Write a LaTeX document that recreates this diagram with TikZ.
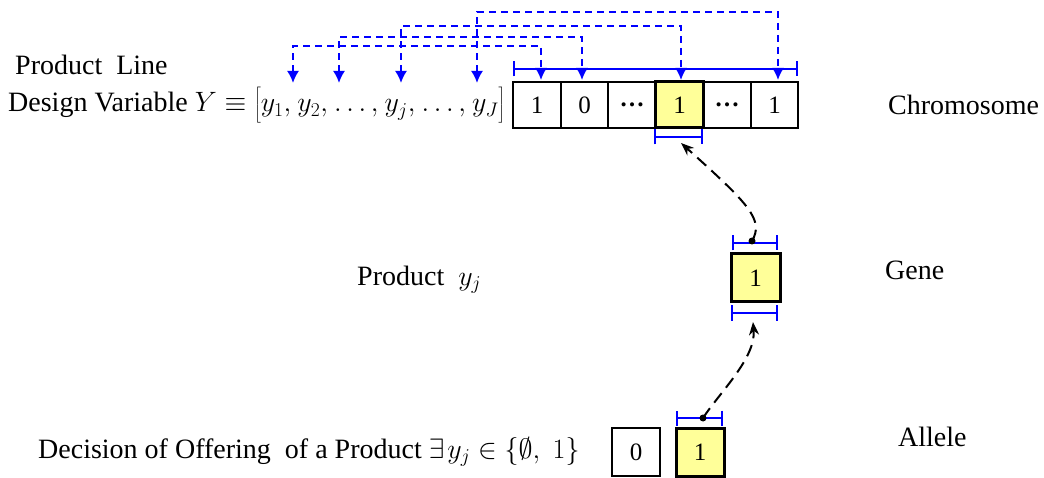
\documentclass[tikz,border=0pt]{standalone}
\usepackage{fix-cm}
\usepackage{fontspec}
\setmainfont{Liberation Serif}
\usetikzlibrary{arrows.meta}
\definecolor{lightyel}{rgb}{1,1,0.6}
\begin{document}
\begin{tikzpicture}[x=1pt,y=-1pt,
 cell/.style={draw,line width=1.8pt,minimum width=47.5pt,minimum height=46pt,inner sep=0pt,outer sep=0pt,font=\fontsize{25}{30}\selectfont},
 hcell/.style={cell,fill=lightyel,line width=3pt},
 lbl/.style={font=\fontsize{28}{33}\selectfont,inner sep=0pt,anchor=west},
 brk/.style={blue,line width=2pt,{Bar[width=15pt]}-{Bar[width=15pt]}},
 link/.style={blue,line width=2pt,dash pattern=on 7pt off 5pt,{Latex[length=12pt,width=12pt]}-{Latex[length=12pt,width=12pt]}},
 evo/.style={black,line width=2pt,dash pattern=on 12pt off 7pt,-{Stealth[length=13pt,width=10pt]}},
 dot/.style={circle,fill=black,inner sep=0pt,minimum size=7pt}]
\useasboundingbox (0,0) rectangle (1044,478);

% labels
\node[lbl] (pl) at (15,65) {Product\ \ Line};
\node[lbl] (dv) at (8,105) {Design Variable $Y\equiv \left[\rule[-11pt]{0pt}{34pt}y_1,\mkern1mu y_2,\mkern1mu\ldots,\mkern1mu y_j,\mkern1mu\ldots,\mkern1mu y_J\right]$};
\node[lbl] (chr) at (888,105) {Chromosome};
\node[lbl] (gen) at (885,270) {Gene};
\node[lbl] (prd) at (357,280) {Product\ \ $y_j$};
\node[lbl] (all) at (898,437) {Allele};
\node[lbl] (dec) at (38,452) {Decision of Offering\ \ of a Product $\exists\mkern2mu y_j\in\{\emptyset,\;1\}$};

% chromosome cells
\node[cell] (c1) at (537,105) {1};
\node[cell] (c2) at (584.5,105) {0};
\node[cell] (c3) at (632,105) {\textbf{\ldots}};
\node[cell,fill=lightyel,line width=3pt] (c4) at (679.5,105) {1};
\node[cell] (c5) at (727,105) {\textbf{\ldots}};
\node[cell] (c6) at (774.5,105) {1};

% gene and alleles
\node[hcell,minimum width=49pt,minimum height=48pt] (g) at (755.5,278) {1};
\node[cell,minimum width=48pt,minimum height=48pt] (a0) at (636,452) {0};
\node[hcell,minimum width=48pt,minimum height=48pt] (a1) at (700,452) {1};

% brackets
\coordinate (cbl) at (513,69); \coordinate (cbr) at (798,69);
\draw[brk] (cbl) -- (cbr);
\coordinate (hbl) at (654,137); \coordinate (hbr) at (703,137);
\draw[brk] (hbl) -- (hbr);
\coordinate (gtl) at (732,243); \coordinate (gtr) at (778,243);
\draw[brk] (gtl) -- (gtr);
\coordinate (gbl) at (731,313); \coordinate (gbr) at (778,313);
\draw[brk] (gbl) -- (gbr);
\coordinate (atl) at (676,418); \coordinate (atr) at (723,418);
\draw[brk] (atl) -- (atr);

% links between variables and cells
\coordinate (p1) at (293,83); \coordinate (q1) at (541,80);
\coordinate (p2) at (339,83); \coordinate (q2) at (582,80);
\coordinate (p3) at (401,83); \coordinate (q3) at (681,80);
\coordinate (p4) at (477,83); \coordinate (q4) at (778,80);
\draw[link] (p1) -- ++(0,-37) -| (q1);
\draw[link] (p2) -- ++(0,-46) -| (q2);
\draw[link] (p3) -- ++(0,-57) -| (q3);
\draw[link] (p4) -- ++(0,-71) -| (q4);

% evolution arrows
\node[dot] (d1) at (752,241) {};
\coordinate (t1) at (681,143);
\draw[evo] (d1.center) .. controls (764,220) and (750,205) .. (t1);
\node[dot] (d2) at (703,418) {};
\coordinate (t2) at (753,322);
\draw[evo] (d2.center) .. controls (720,392) and (756,358) .. (t2);
\end{tikzpicture}
\end{document}
